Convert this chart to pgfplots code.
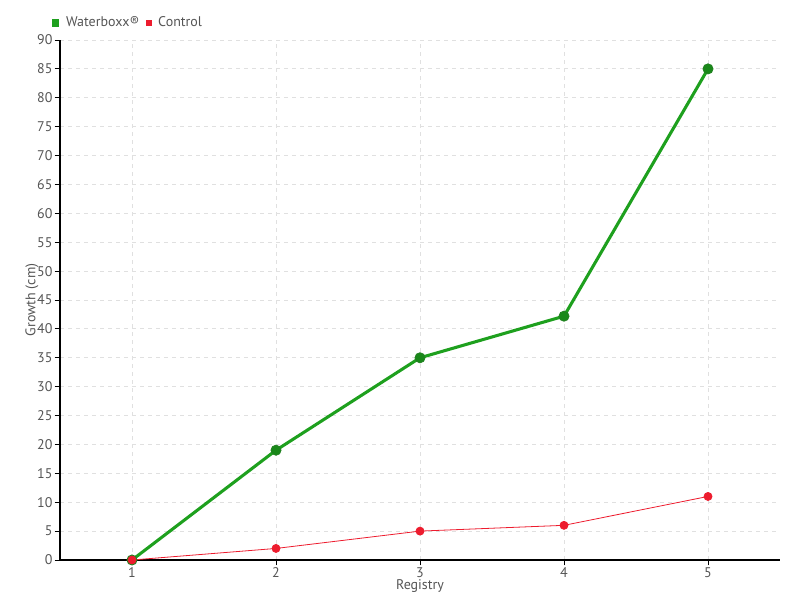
\documentclass[border=0pt]{standalone}
\usepackage{pgfplots}
\pgfplotsset{compat=1.18}
\usepackage{fontspec}
\setmainfont{PT Sans}
\definecolor{wgreen}{RGB}{30,160,30}
\definecolor{wgreendark}{RGB}{35,130,35}
\definecolor{cred}{RGB}{237,28,46}
\definecolor{txt}{RGB}{85,85,85}
\begin{document}
\begin{tikzpicture}
\begin{axis}[
  scale only axis,
  width=540pt, height=390pt,
  xmin=0.5, xmax=5.5, ymin=0, ymax=90,
  xtick={1,2,3,4,5},
  ytick={0,5,...,90},
  axis x line=bottom, axis y line=left,
  axis line style={-, black, line width=0.8pt},
  tick style={black, line width=0.6pt},
  major tick length=4pt,
  xtick align=outside, ytick align=outside,
  grid=major,
  grid style={dashed, black!12, line width=0.6pt},
  /pgf/number format/assume math mode=true,
  ticklabel style={font=\fontsize{10.5}{12}\selectfont, text=txt},
  tick label style={inner sep=1.5pt},
  xlabel={Registry}, ylabel={Growth (cm)},
  label style={font=\fontsize{10.5}{12}\selectfont, text=txt},
  xlabel style={yshift=1pt, inner sep=0.5pt},
  ylabel style={yshift=-6pt},
  legend style={draw=none, fill=none, at={(rel axis cs:-0.012,1.05)}, anchor=north west,
    font=\fontsize{10.5}{12}\selectfont, text=txt, inner sep=0pt,
    column sep=3pt},
  legend columns=2,
  legend cell align=left,
  legend image code/.code={\fill[#1] (0.5pt,-1.8pt) rectangle (4.1pt,1.8pt);},
  clip=false,
]
\addplot[wgreen, line width=2.3pt, mark=*, mark size=3.8pt,
  mark options={fill=wgreen!85!black, draw=wgreendark, line width=0.6pt}]
  coordinates {(1,0) (2,19) (3,35) (4,42.2) (5,85)};
\addlegendentry{Waterboxx®}
\addplot[cred, line width=0.6pt, mark=*, mark size=3pt,
  mark options={fill=cred, draw=cred}]
  coordinates {(1,0) (2,2) (3,5) (4,6) (5,11)};
\addlegendentry{Control}
\end{axis}
\pgfresetboundingbox
\path (current axis.south west) ++(-45pt,-30pt) coordinate (bl);
\path (current axis.north east) ++(15pt,30pt) coordinate (tr);
\path (bl) rectangle (tr);
\end{tikzpicture}
\end{document}
